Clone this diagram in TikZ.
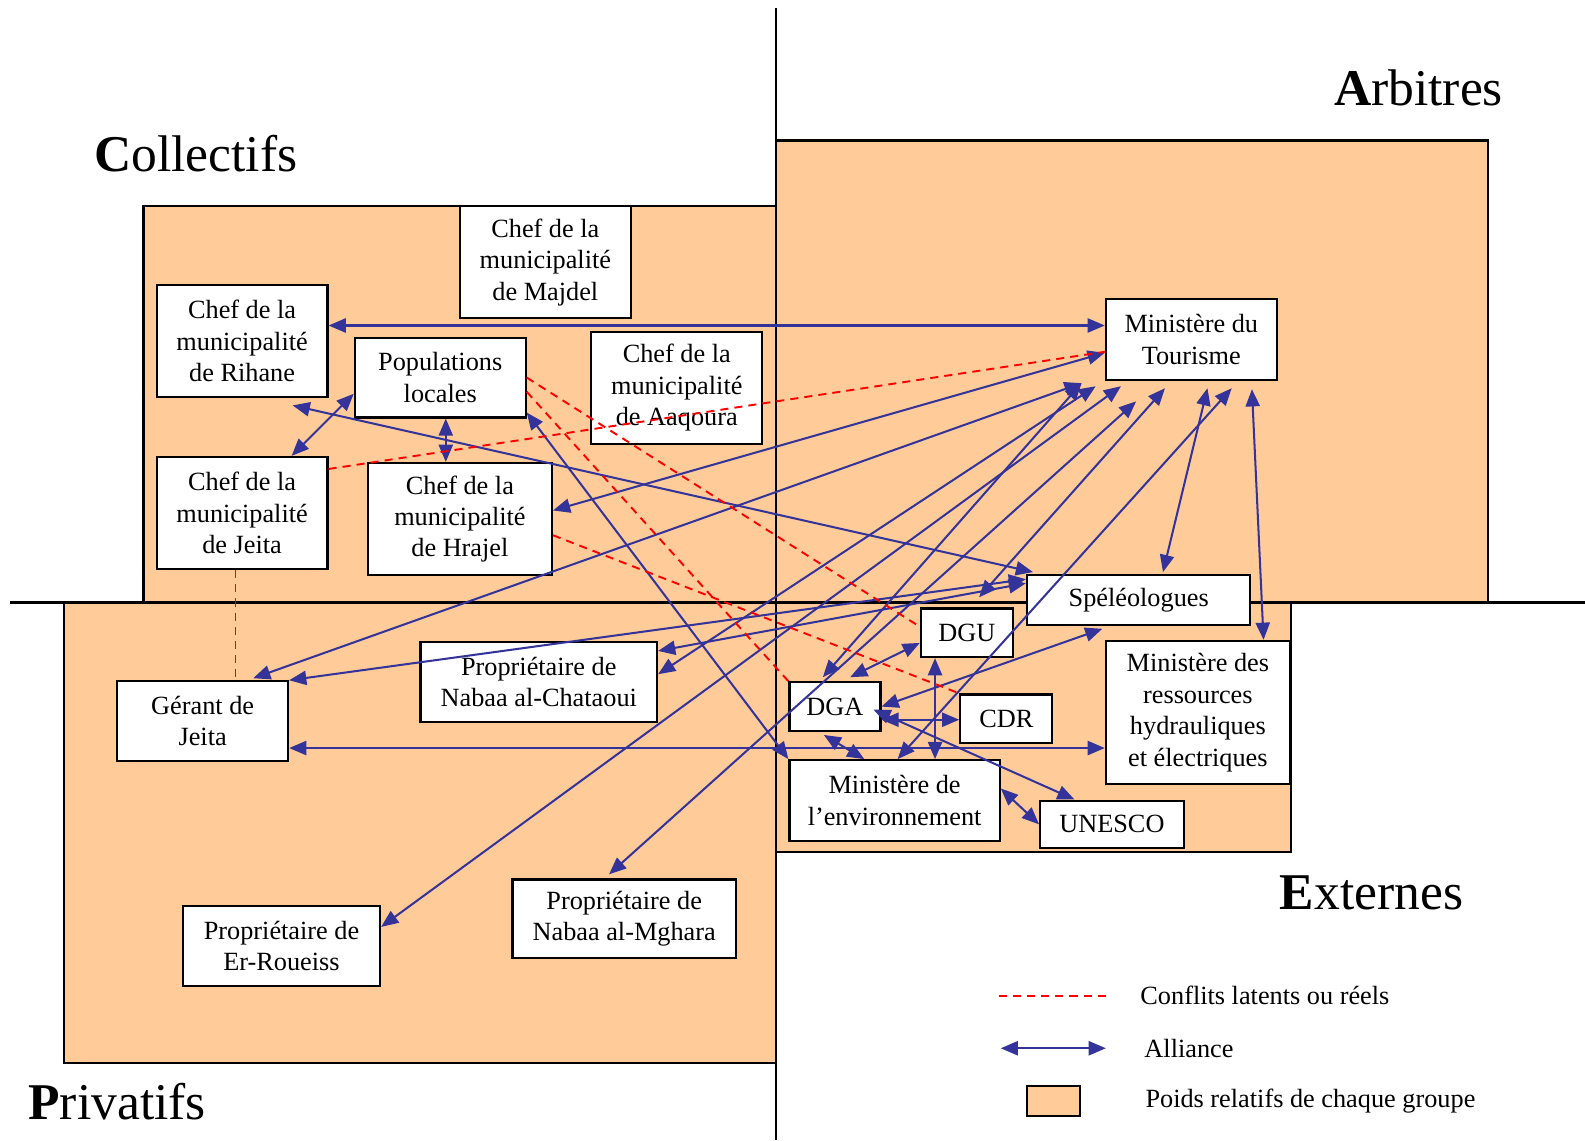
\documentclass[tikz,border=0pt]{standalone}
\usepackage{fontspec}
\setmainfont{Liberation Serif}
\usetikzlibrary{arrows.meta}

\definecolor{poids}{RGB}{255,204,153}
\definecolor{allib}{RGB}{51,51,153}

\tikzset{
  acteur/.style={draw,fill=white,line width=2.1pt,align=center,inner sep=2pt,
    font=\fontsize{26}{31}\selectfont},
  groupe/.style={draw,fill=poids,line width=2.1pt},
  alliance/.style={draw=allib,line width=2pt,<->},
  conflit/.style={draw=red,line width=1.9pt,dash pattern=on 8pt off 6pt},
  titre/.style={font=\fontsize{51}{60}\selectfont,inner sep=0pt},
  legende/.style={font=\fontsize{26}{31}\selectfont,inner sep=0pt,anchor=west},
}

\begin{document}
\begin{tikzpicture}[x=1pt,y=-1pt,>={Triangle[length=17pt,width=14pt]}]
\useasboundingbox (0,0) rectangle (1568,1128);
\draw[groupe] (142,204) rectangle (768,596);
\draw[groupe] (768,139) rectangle (1472,596);
\draw[groupe] (63,596) rectangle (768,1052);
\draw[groupe] (768,596) rectangle (1277,843);
\draw[line width=2.2pt] (768,8) -- (768,1128);
\draw[line width=2.2pt] (10,596) -- (1568,596);

\node[titre,anchor=west] (collectifs) at (93,152) {\textbf{C}ollectifs};
\node[titre,anchor=east] (arbitres) at (1487,87) {\textbf{A}rbitres};
\node[titre,anchor=west] (externes) at (1266,883) {\textbf{E}xternes};
\node[titre,anchor=west] (privatifs) at (28,1090) {\textbf{P}rivatifs};

\node[acteur,minimum width=169pt,minimum height=111pt] (majdel) at (539.5,259.5) {Chef de la\\municipalité\\de Majdel};
\node[acteur,minimum width=169pt,minimum height=111pt] (rihane) at (239.5,337.5) {Chef de la\\municipalité\\de Rihane};
\node[acteur,minimum width=169pt,minimum height=79pt] (pop) at (435.5,373.5) {Populations\\locales};
\node[acteur,minimum width=169pt,minimum height=111pt] (aaqoura) at (669.5,383.5) {Chef de la\\municipalité\\de Aaqoura};
\node[acteur,minimum width=169pt,minimum height=111pt] (chefjeita) at (239.5,507.5) {Chef de la\\municipalité\\de Jeita};
\node[acteur,minimum width=182pt,minimum height=111pt] (hrajel) at (455,513.5) {Chef de la\\municipalité\\de Hrajel};
\node[acteur,minimum width=169pt,minimum height=80pt] (tourisme) at (1178.5,336) {Ministère du\\Tourisme};
\node[acteur,minimum width=221pt,minimum height=49pt] (speleo) at (1126.5,593.5) {Spéléologues};
\node[acteur,minimum width=91pt,minimum height=48pt] (dgu) at (956.5,626) {DGU};
\node[acteur,minimum width=90pt,minimum height=48pt] (dga) at (826,699) {DGA};
\node[acteur,minimum width=91pt,minimum height=48pt] (cdr) at (995.5,711) {CDR};
\node[acteur,minimum width=182pt,minimum height=142pt] (ressources) at (1185,705) {Ministère des\\ressources\\hydrauliques\\et électriques};
\node[acteur,minimum width=208pt,minimum height=80pt] (env) at (885,792) {Ministère de\\l’environnement};
\node[acteur,minimum width=142pt,minimum height=47pt] (unesco) at (1100,815.5) {UNESCO};
\node[acteur,minimum width=169pt,minimum height=79pt] (gerant) at (200.5,713.5) {Gérant de\\Jeita};
\node[acteur,minimum width=234pt,minimum height=79pt] (chataoui) at (533,674.5) {Propriétaire de\\Nabaa al-Chataoui};
\node[acteur,minimum width=195pt,minimum height=79pt] (roueiss) at (278.5,935.5) {Propriétaire de\\Er-Roueiss};
\node[acteur,minimum width=221pt,minimum height=78pt] (mghara) at (617.5,909) {Propriétaire de\\Nabaa al-Mghara};

\draw[alliance] ([yshift=15.5pt]rihane.east) -- ([yshift=14pt]tourisme.west);
\draw[alliance] ([yshift=8.5pt]hrajel.east) -- ([yshift=-13pt]tourisme.west);
\draw[alliance] ([xshift=50pt,yshift=-7pt]rihane.south) -- ([xshift=7pt,yshift=2pt]speleo.north west);
\draw[alliance] ([yshift=-16pt]pop.west) -- ([xshift=49pt]chefjeita.north);
\draw[alliance] ([xshift=5.5pt]pop.south) -- ([xshift=-14pt]hrajel.north);
\draw[alliance] ([yshift=6pt]pop.south east) -- (env.north west);
\draw[alliance] ([xshift=50pt,yshift=2pt]gerant.north) -- ([xshift=-23pt,yshift=-2pt]tourisme.south west);
\draw[alliance] (gerant.north east) -- ([yshift=-5pt]speleo.north west);
\draw[alliance] ([yshift=-26.5pt]gerant.east) -- ([yshift=-35pt]ressources.west);
\draw[alliance] ([yshift=-10pt]chataoui.north east) -- ([yshift=-9pt]speleo.north west);
\draw[alliance] ([yshift=7.5pt]chataoui.east) -- ([xshift=-9pt,yshift=-5pt]tourisme.south west);
\draw[alliance] ([yshift=-22pt]roueiss.north east) -- ([xshift=16pt,yshift=-5pt]tourisme.south west);
\draw[alliance] ([xshift=-15pt,yshift=4pt]mghara.north) -- ([xshift=31pt,yshift=-20pt]tourisme.south west);
\draw[alliance] ([xshift=-12pt,yshift=4pt]dga.north) -- ([xshift=-23pt,yshift=-2pt]tourisme.south west);
\draw[alliance] ([xshift=12pt,yshift=10pt]dgu.north) -- ([xshift=-26pt,yshift=-7pt]tourisme.south);
\draw[alliance] ([xshift=3pt]env.north) -- ([xshift=40pt,yshift=-7pt]tourisme.south);
\draw[alliance] ([xshift=24pt,yshift=2pt]speleo.north) -- ([xshift=16pt,yshift=-7pt]tourisme.south);
\draw[alliance] ([xshift=65pt]ressources.north) -- ([xshift=60pt,yshift=-8pt]tourisme.south);
\draw[alliance] ([xshift=15pt,yshift=4pt]dga.north) -- ([yshift=-10pt]dgu.west);
\draw[alliance] (dga.east) -- ([xshift=-36pt,yshift=-3pt]speleo.south);
\draw[alliance] ([yshift=-13pt]dga.east) -- ([yshift=-1pt]cdr.west);
\draw[alliance] ([xshift=-31.5pt]dgu.south) -- ([xshift=40pt]env.north);
\draw[alliance] ([xshift=-8pt,yshift=-3pt]dga.east) -- ([xshift=-37pt]unesco.north);
\draw[alliance] ([xshift=-11pt,yshift=-3pt]dga.south) -- ([xshift=-30pt]env.north);
\draw[alliance] ([yshift=12pt]env.east) -- (unesco.west);

\draw[conflit] ([yshift=-13pt]chefjeita.north east) -- ([yshift=-12pt]tourisme.west);
\draw[conflit] ([xshift=-6.5pt]chefjeita.south) -- ([xshift=32.5pt]gerant.north);
\draw[conflit] (pop.east) -- ([yshift=6pt]dgu.west);
\draw[conflit] ([yshift=-14pt]pop.east) -- (dga.north west);
\draw[conflit] ([yshift=-16pt]hrajel.east) -- (cdr.north west);

\node[legende] (lconflit) at (1128,985) {Conflits latents ou réels};
\draw[conflit] ([xshift=-140pt]lconflit.west) -- ([xshift=-34pt]lconflit.west);
\node[legende] (lalliance) at (1132,1037) {Alliance};
\draw[alliance] ([xshift=-142pt]lalliance.west) -- ([xshift=-38pt]lalliance.west);
\node[legende] (lpoids) at (1133,1089) {Poids relatifs de chaque groupe};
\draw[groupe] ([xshift=-117pt,yshift=15pt]lpoids.west) rectangle ([xshift=-65pt,yshift=-15pt]lpoids.west);
\end{tikzpicture}
\end{document}
